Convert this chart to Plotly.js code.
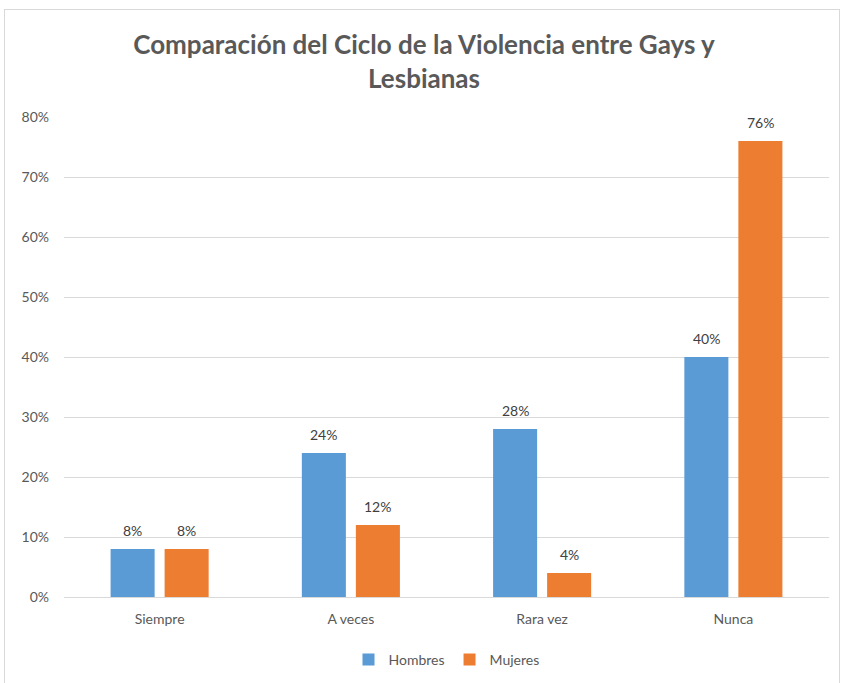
<!DOCTYPE html>
<html><head><meta charset="utf-8">
<script src="https://cdn.plot.ly/plotly-3.0.1.min.js"></script>
<style>
html,body{margin:0;padding:0;background:#fff;}
#frame{position:absolute;left:4px;top:9px;width:836px;height:690px;border:1px solid #d9d9d9;box-sizing:border-box;}
#chart{position:absolute;left:0;top:0;width:848px;height:683px;}
</style></head>
<body>
<div id="frame"></div>
<div id="chart"></div>
<script>
const categories = ["Siempre", "A veces", "Rara vez", "Nunca"];
const hombres = [0.08, 0.24, 0.28, 0.40];
const mujeres = [0.08, 0.12, 0.04, 0.76];
const tickVals = [0, 0.1, 0.2, 0.3, 0.4, 0.5, 0.6, 0.7, 0.8];
const tickLabels = ["0%", "10%", "20%", "30%", "40%", "50%", "60%", "70%", "80%"];
const fmt = v => Math.round(v * 100) + "%";
const font = "Lato, 'Open Sans', sans-serif";
const traces = [
  {type: "bar", name: "Hombres", x: categories, y: hombres, marker: {color: "#5B9BD5"}, hoverinfo: "none"},
  {type: "bar", name: "Mujeres", x: categories, y: mujeres, marker: {color: "#ED7D31"}, hoverinfo: "none"}
];
const annotations = [];
categories.forEach((c, i) => {
  annotations.push({x: c, y: hombres[i], xref: "x", yref: "y", text: fmt(hombres[i]), showarrow: false,
    xshift: -27, yshift: 19, font: {family: font, size: 14, color: "#404040"}});
  annotations.push({x: c, y: mujeres[i], xref: "x", yref: "y", text: fmt(mujeres[i]), showarrow: false,
    xshift: 27, yshift: 19, font: {family: font, size: 14, color: "#404040"}});
});
const layout = {
  width: 848, height: 683,
  paper_bgcolor: "rgba(0,0,0,0)", plot_bgcolor: "rgba(0,0,0,0)",
  margin: {l: 64, r: 19, t: 117, b: 86},
  font: {family: font, color: "#595959", size: 14},
  title: {text: "<b>Comparación del Ciclo de la Violencia entre Gays y<br>Lesbianas</b>",
          font: {family: font, size: 26, color: "#595959"}, x: 0.5, xanchor: "center",
          y: 1 - 54/683, yanchor: "middle", yref: "container"},
  barmode: "group", bargap: 0.435, bargroupgap: 0.185,
  annotations: annotations,
  xaxis: {showgrid: false, showline: false, zeroline: false, ticks: "", ticklabelstandoff: 12,
          tickfont: {family: font, size: 14, color: "#595959"}},
  yaxis: {range: [0, 0.8], tickvals: tickVals, ticktext: tickLabels, showgrid: true,
          gridcolor: "#d9d9d9", gridwidth: 1, zeroline: true, zerolinecolor: "#d9d9d9",
          showline: false, ticks: "", ticklabelstandoff: 14,
          tickfont: {family: font, size: 14, color: "#595959"}},
  showlegend: true,
  legend: {orientation: "h", x: 0.5, xanchor: "center", y: 23/683, yanchor: "middle", yref: "container",
           font: {family: font, size: 14, color: "#595959"}, itemwidth: 30, traceorder: "normal"}
};
Plotly.newPlot("chart", traces, layout, {displayModeBar: false, staticPlot: true});
</script>
</body></html>
